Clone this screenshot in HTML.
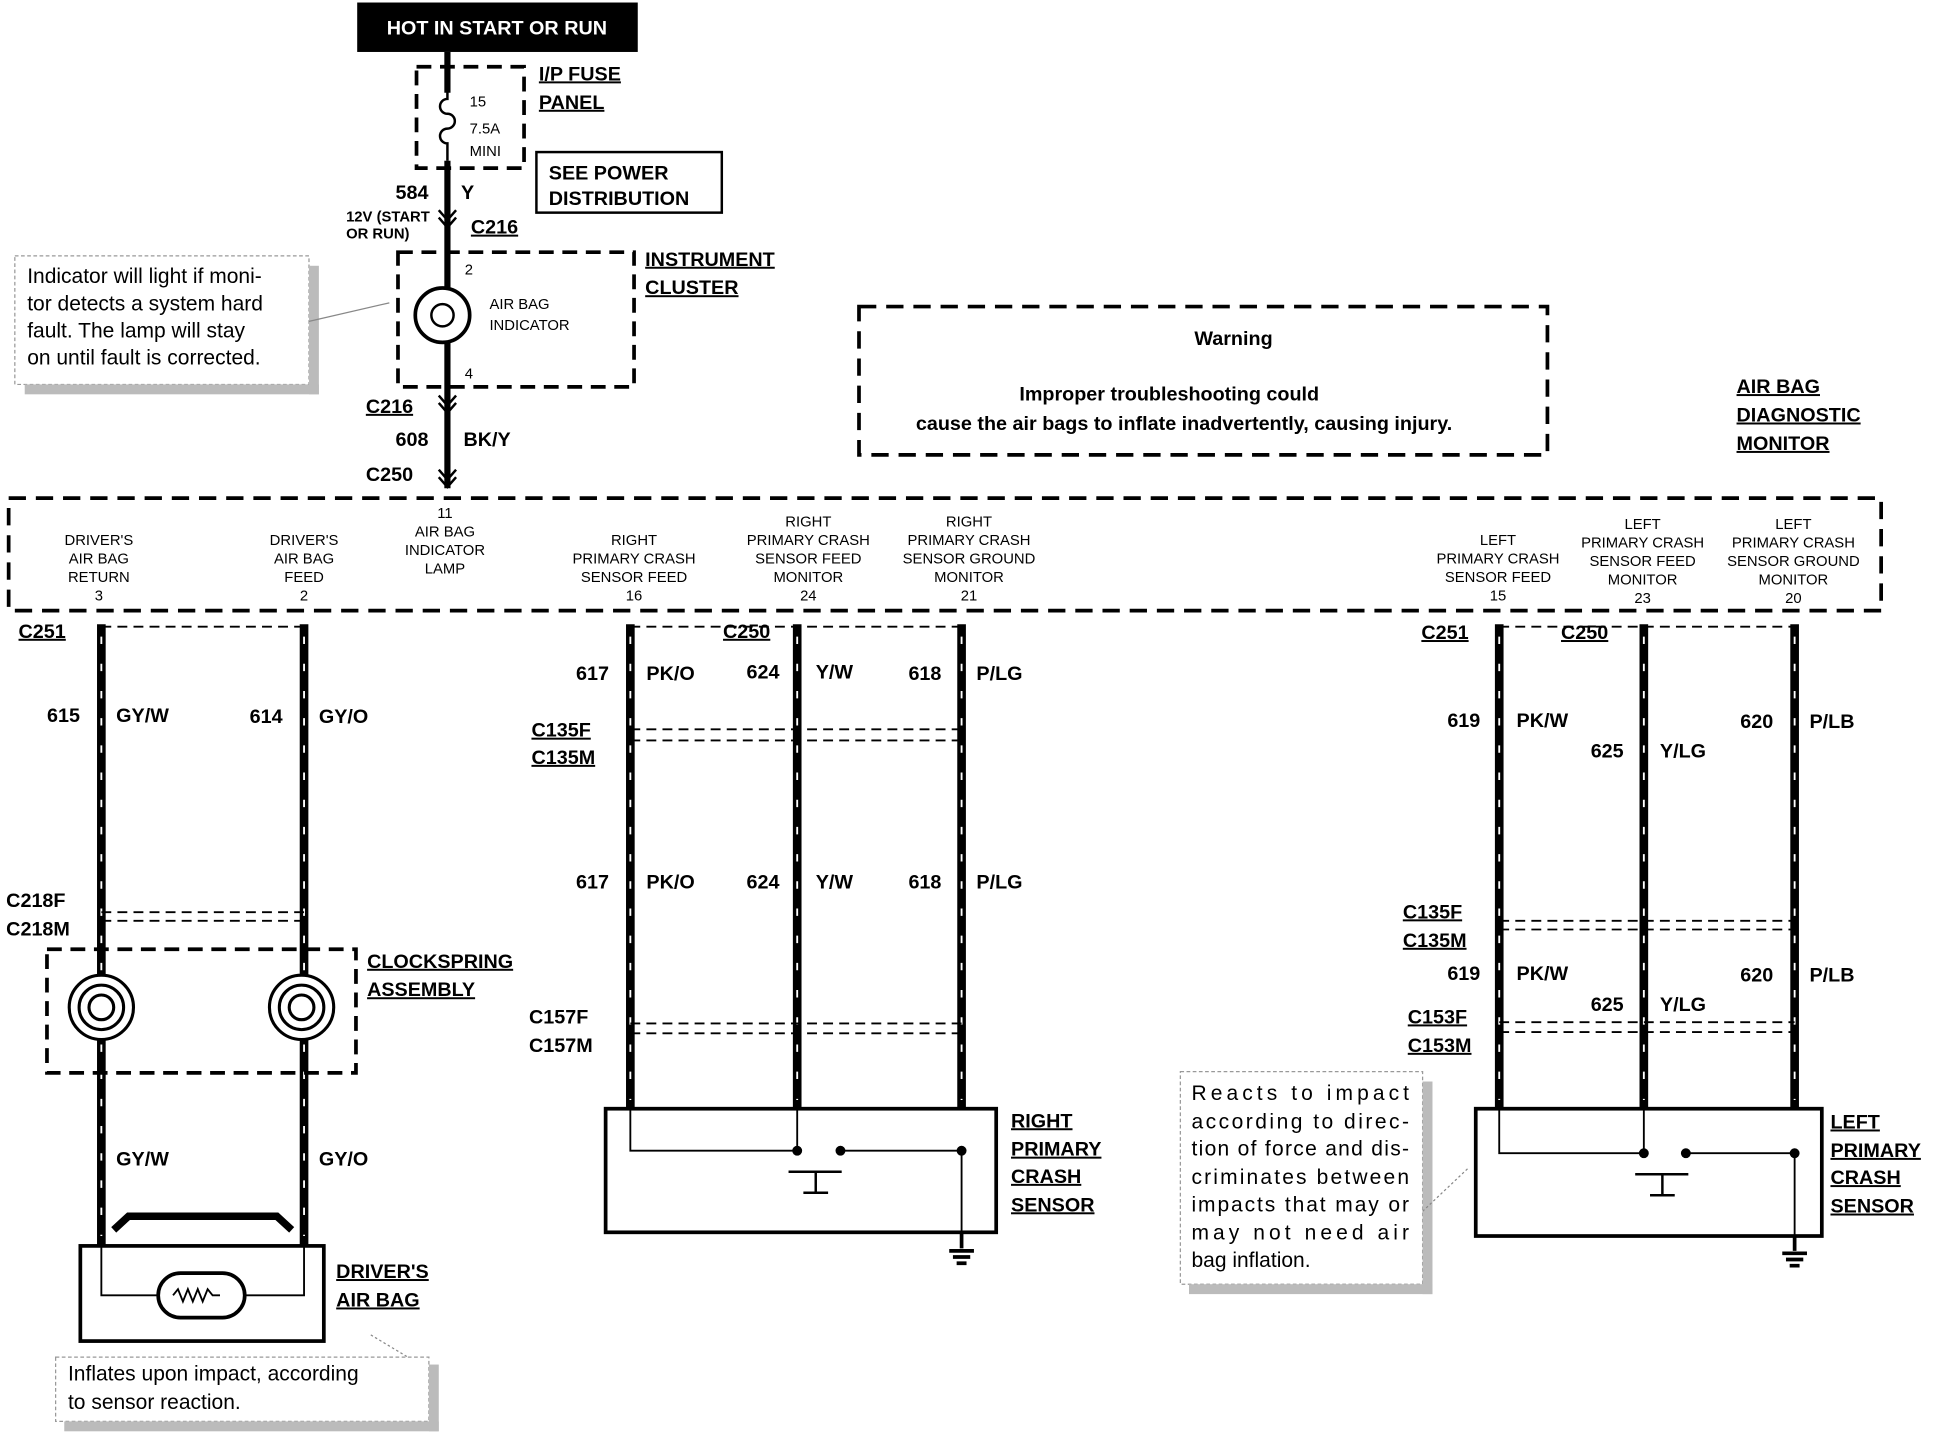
<!DOCTYPE html>
<html><head><meta charset="utf-8"><style>
html,body{margin:0;padding:0;background:#fff;}
svg{display:block;}
text{font-family:"Liberation Sans",Arial,sans-serif;fill:#000;}
.b{font-weight:bold;font-size:16px;}
.u{text-decoration:underline;}
.s{font-size:12px;}
.c{font-size:17px;}
</style></head><body>
<svg width="1938" height="1440" viewBox="0 0 1568 1165" xmlns="http://www.w3.org/2000/svg">
<defs>
<g id="tick"></g>
</defs>
<!-- top box -->
<rect x="289" y="2" width="227" height="40" fill="#000"/>
<text x="402" y="28" text-anchor="middle" font-size="16" style="fill:#fff;font-weight:bold">HOT IN START OR RUN</text>
<!-- fuse panel -->
<rect x="337" y="54" width="87" height="82" fill="none" stroke="#000" stroke-width="3" stroke-dasharray="12 7"/>
<line x1="362" y1="42" x2="362" y2="395" stroke="#000" stroke-width="5"/>
<rect x="352" y="75" width="20" height="55" fill="#fff"/>
<path d="M362 72 v8 a6 6 0 0 0 0 12 a6 6 0 0 1 0 12 a6 6 0 0 0 0 12 v14" fill="none" stroke="#000" stroke-width="2"/>
<text x="380" y="86" class="s">15</text><text x="380" y="108" class="s">7.5A</text><text x="380" y="126" class="s">MINI</text>
<text x="436" y="65" class="b u">I/P FUSE</text><text x="436" y="88" class="b u">PANEL</text>
<rect x="434" y="123" width="150" height="49" fill="none" stroke="#000" stroke-width="2"/>
<text x="444" y="145" class="b">SEE POWER</text><text x="444" y="166" class="b">DISTRIBUTION</text>
<text x="320" y="161" class="b">584</text><text x="373" y="161" class="b">Y</text>
<text x="280" y="179" font-size="12" font-weight="bold">12V (START</text><text x="280" y="193" font-size="12" font-weight="bold">OR RUN)</text>
<text x="381" y="189" class="b u">C216</text>
<path d="M355 170 l7 8 l7 -8 M355 176 l7 8 l7 -8" fill="none" stroke="#000" stroke-width="2"/>
<!-- instrument cluster -->
<rect x="322" y="204" width="191" height="109" fill="none" stroke="#000" stroke-width="3" stroke-dasharray="12 7"/>
<circle cx="358" cy="255" r="22" fill="#fff" stroke="#000" stroke-width="3"/>
<circle cx="358" cy="255" r="9" fill="none" stroke="#000" stroke-width="2"/>
<text x="376" y="222" class="s">2</text><text x="376" y="306" class="s">4</text>
<text x="396" y="250" class="s">AIR BAG</text><text x="396" y="267" class="s">INDICATOR</text>
<text x="522" y="215" class="b u">INSTRUMENT</text><text x="522" y="238" class="b u">CLUSTER</text>
<rect x="12" y="207" width="238" height="104" fill="#fff" stroke="#999" stroke-width="1" stroke-dasharray="3 2"/>
<rect x="250" y="215" width="8" height="104" fill="#bbb"/><rect x="20" y="311" width="238" height="8" fill="#bbb"/>
<line x1="250" y1="260" x2="315" y2="245" stroke="#888"/>
<text x="22" y="229" class="c">Indicator will light if moni-</text>
<text x="22" y="251" class="c">tor detects a system hard</text>
<text x="22" y="273" class="c">fault.  The lamp will stay</text>
<text x="22" y="295" class="c">on until fault is corrected.</text>
<text x="296" y="334" class="b u">C216</text>
<path d="M355 320 l7 8 l7 -8 M355 326 l7 8 l7 -8 M355 380 l7 8 l7 -8 M355 386 l7 8 l7 -8" fill="none" stroke="#000" stroke-width="2"/>
<text x="320" y="361" class="b">608</text><text x="375" y="361" class="b">BK/Y</text>
<text x="296" y="389" class="b">C250</text>
<!-- warning -->
<rect x="695" y="248" width="557" height="120" fill="none" stroke="#000" stroke-width="3" stroke-dasharray="14 8"/>
<text x="998" y="279" text-anchor="middle" font-size="16" font-weight="bold">Warning</text>
<text x="946" y="324" text-anchor="middle" font-size="16" font-weight="bold">Improper  troubleshooting  could</text>
<text x="958" y="348" text-anchor="middle" font-size="16" font-weight="bold">cause the air bags to inflate inadvertently, causing injury.</text>
<text x="1405" y="318" class="b u">AIR BAG</text><text x="1405" y="341" class="b u">DIAGNOSTIC</text><text x="1405" y="364" class="b u">MONITOR</text>
<!-- monitor box -->
<rect x="7" y="403" width="1515" height="91" fill="none" stroke="#000" stroke-width="3" stroke-dasharray="14 8"/>
<g font-size="12" text-anchor="middle">
<text x="80" y="441">DRIVER'S</text><text x="80" y="456">AIR BAG</text><text x="80" y="471">RETURN</text><text x="80" y="486">3</text>
<text x="246" y="441">DRIVER'S</text><text x="246" y="456">AIR BAG</text><text x="246" y="471">FEED</text><text x="246" y="486">2</text>
<text x="360" y="419">11</text><text x="360" y="434">AIR BAG</text><text x="360" y="449">INDICATOR</text><text x="360" y="464">LAMP</text>
<text x="513" y="441">RIGHT</text><text x="513" y="456">PRIMARY CRASH</text><text x="513" y="471">SENSOR FEED</text><text x="513" y="486">16</text>
<text x="654" y="426">RIGHT</text><text x="654" y="441">PRIMARY CRASH</text><text x="654" y="456">SENSOR FEED</text><text x="654" y="471">MONITOR</text><text x="654" y="486">24</text>
<text x="784" y="426">RIGHT</text><text x="784" y="441">PRIMARY CRASH</text><text x="784" y="456">SENSOR GROUND</text><text x="784" y="471">MONITOR</text><text x="784" y="486">21</text>
<text x="1212" y="441">LEFT</text><text x="1212" y="456">PRIMARY CRASH</text><text x="1212" y="471">SENSOR FEED</text><text x="1212" y="486">15</text>
<text x="1329" y="428">LEFT</text><text x="1329" y="443">PRIMARY CRASH</text><text x="1329" y="458">SENSOR FEED</text><text x="1329" y="473">MONITOR</text><text x="1329" y="488">23</text>
<text x="1451" y="428">LEFT</text><text x="1451" y="443">PRIMARY CRASH</text><text x="1451" y="458">SENSOR GROUND</text><text x="1451" y="473">MONITOR</text><text x="1451" y="488">20</text>
</g>
<!-- wires -->
<g stroke="#000" stroke-width="7">
<line x1="82" y1="505" x2="82" y2="1008"/><line x1="246" y1="505" x2="246" y2="1008"/>
<line x1="510" y1="505" x2="510" y2="897"/><line x1="645" y1="505" x2="645" y2="897"/><line x1="778" y1="505" x2="778" y2="897"/>
<line x1="1213" y1="505" x2="1213" y2="897"/><line x1="1330" y1="505" x2="1330" y2="897"/><line x1="1452" y1="505" x2="1452" y2="897"/>
</g>
<g stroke="#fff" stroke-width="1.5" stroke-dasharray="6 16">
<line x1="82" y1="515" x2="82" y2="1000"/><line x1="246" y1="515" x2="246" y2="1000"/>
<line x1="510" y1="515" x2="510" y2="890"/><line x1="645" y1="515" x2="645" y2="890"/><line x1="778" y1="515" x2="778" y2="890"/>
<line x1="1213" y1="515" x2="1213" y2="890"/><line x1="1330" y1="515" x2="1330" y2="890"/><line x1="1452" y1="515" x2="1452" y2="890"/>
</g>
<g fill="none" stroke="#000" stroke-width="1.5" stroke-dasharray="8 5">
<path d="M82 507 H246 M510 507 H778 M1213 507 H1452"/>
<path d="M82 738 H246 M82 745 H246"/>
<path d="M510 590 H778 M510 599 H778 M510 828 H778 M510 836 H778"/>
<path d="M1213 745 H1452 M1213 752 H1452 M1213 827 H1452 M1213 835 H1452"/>
</g>
<g class="b">
<text x="15" y="516" class="b u">C251</text>
<text x="585" y="516" class="b u">C250</text><text x="1150" y="517" class="b u">C251</text><text x="1263" y="517" class="b u">C250</text>
<text x="38" y="584" class="b">615</text><text x="94" y="584" class="b">GY/W</text>
<text x="202" y="585" class="b">614</text><text x="258" y="585" class="b">GY/O</text>
<text x="466" y="550" class="b">617</text><text x="523" y="550" class="b">PK/O</text>
<text x="604" y="549" class="b">624</text><text x="660" y="549" class="b">Y/W</text>
<text x="735" y="550" class="b">618</text><text x="790" y="550" class="b">P/LG</text>
<text x="430" y="596" class="b u">C135F</text><text x="430" y="618" class="b u">C135M</text>
<text x="466" y="719" class="b">617</text><text x="523" y="719" class="b">PK/O</text>
<text x="604" y="719" class="b">624</text><text x="660" y="719" class="b">Y/W</text>
<text x="735" y="719" class="b">618</text><text x="790" y="719" class="b">P/LG</text>
<text x="428" y="828" class="b">C157F</text><text x="428" y="851" class="b">C157M</text>
<text x="1171" y="588" class="b">619</text><text x="1227" y="588" class="b">PK/W</text>
<text x="1287" y="613" class="b">625</text><text x="1343" y="613" class="b">Y/LG</text>
<text x="1408" y="589" class="b">620</text><text x="1464" y="589" class="b">P/LB</text>
<text x="1135" y="743" class="b u">C135F</text><text x="1135" y="766" class="b u">C135M</text>
<text x="1171" y="793" class="b">619</text><text x="1227" y="793" class="b">PK/W</text>
<text x="1287" y="818" class="b">625</text><text x="1343" y="818" class="b">Y/LG</text>
<text x="1408" y="794" class="b">620</text><text x="1464" y="794" class="b">P/LB</text>
<text x="1139" y="828" class="b u">C153F</text><text x="1139" y="851" class="b u">C153M</text>
<text x="5" y="734" class="b">C218F</text><text x="5" y="757" class="b">C218M</text>
</g>
<!-- clockspring -->
<rect x="38" y="768" width="250" height="100" fill="none" stroke="#000" stroke-width="3" stroke-dasharray="12 7"/>
<g fill="#fff" stroke="#000" stroke-width="2.5">
<circle cx="82" cy="815" r="26"/><circle cx="82" cy="815" r="18"/><circle cx="82" cy="815" r="10"/>
<circle cx="244" cy="815" r="26"/><circle cx="244" cy="815" r="18"/><circle cx="244" cy="815" r="10"/>
</g>
<text x="297" y="783" class="b u">CLOCKSPRING</text><text x="297" y="806" class="b u">ASSEMBLY</text>
<text x="94" y="943" class="b">GY/W</text><text x="258" y="943" class="b">GY/O</text>
<path d="M92 995 L104 984 H224 L236 995" fill="none" stroke="#000" stroke-width="6"/>
<!-- driver's air bag -->
<rect x="65" y="1008" width="197" height="77" fill="none" stroke="#000" stroke-width="3"/>
<path d="M82 1008 V1048 H128 M198 1048 H246 V1008" fill="none" stroke="#000" stroke-width="1.5"/>
<rect x="128" y="1030" width="70" height="36" rx="18" fill="#fff" stroke="#000" stroke-width="3"/>
<path d="M140 1048 l4 -5 l4 10 l4 -10 l4 10 l4 -10 l4 10 l4 -10 l4 5 h6" fill="none" stroke="#000" stroke-width="1.5"/>
<text x="272" y="1034" class="b u">DRIVER'S</text><text x="272" y="1057" class="b u">AIR BAG</text>
<rect x="45" y="1098" width="302" height="52" fill="#fff" stroke="#999" stroke-dasharray="3 2"/>
<rect x="347" y="1104" width="8" height="54" fill="#bbb"/><rect x="52" y="1150" width="303" height="8" fill="#bbb"/>
<line x1="300" y1="1080" x2="330" y2="1098" stroke="#888" stroke-dasharray="2 2"/>
<text x="55" y="1117" class="c">Inflates upon impact, according</text>
<text x="55" y="1140" class="c">to sensor reaction.</text>
<!-- right sensor -->
<rect x="490" y="897" width="316" height="100" fill="none" stroke="#000" stroke-width="3"/>
<path d="M510 897 V931 H645 V897 M680 931 H778 V1000" fill="none" stroke="#000" stroke-width="1.5"/>
<circle cx="645" cy="931" r="4"/><circle cx="680" cy="931" r="4"/><circle cx="778" cy="931" r="4"/>
<path d="M638 948 H681 M660 948 V965 M650 965 H670" stroke="#000" stroke-width="2"/>
<path d="M778 997 V1010 M768 1012 H788 M771 1017 H785 M774 1022 H782" stroke="#000" stroke-width="3"/>
<text x="818" y="912" class="b u">RIGHT</text><text x="818" y="935" class="b u">PRIMARY</text><text x="818" y="957" class="b u">CRASH</text><text x="818" y="980" class="b u">SENSOR</text>
<!-- left sensor -->
<rect x="1194" y="897" width="280" height="103" fill="none" stroke="#000" stroke-width="3"/>
<path d="M1213 897 V933 H1330 V897 M1364 933 H1452 V1003" fill="none" stroke="#000" stroke-width="1.5"/>
<circle cx="1330" cy="933" r="4"/><circle cx="1364" cy="933" r="4"/><circle cx="1452" cy="933" r="4"/>
<path d="M1323 950 H1366 M1345 950 V967 M1335 967 H1355" stroke="#000" stroke-width="2"/>
<path d="M1452 1000 V1012 M1442 1014 H1462 M1445 1019 H1459 M1448 1024 H1456" stroke="#000" stroke-width="3"/>
<text x="1481" y="913" class="b u">LEFT</text><text x="1481" y="936" class="b u">PRIMARY</text><text x="1481" y="958" class="b u">CRASH</text><text x="1481" y="981" class="b u">SENSOR</text>
<!-- right callout -->
<rect x="955" y="867" width="196" height="172" fill="#fff" stroke="#999" stroke-dasharray="3 2"/>
<rect x="1151" y="875" width="8" height="172" fill="#bbb"/><rect x="962" y="1039" width="197" height="8" fill="#bbb"/>
<line x1="1151" y1="980" x2="1188" y2="945" stroke="#888" stroke-dasharray="2 2"/>
<g class="c">
<text x="964" y="890" textLength="176" lengthAdjust="spacing">Reacts   to   impact</text>
<text x="964" y="913" textLength="176" lengthAdjust="spacing">according to direc-</text>
<text x="964" y="935" textLength="176" lengthAdjust="spacing">tion of force and dis-</text>
<text x="964" y="958" textLength="176" lengthAdjust="spacing">criminates between</text>
<text x="964" y="980" textLength="176" lengthAdjust="spacing">impacts that may or</text>
<text x="964" y="1003" textLength="176" lengthAdjust="spacing">may   not   need   air</text>
<text x="964" y="1025">bag inflation.</text>
</g>
</svg>
</body></html>
